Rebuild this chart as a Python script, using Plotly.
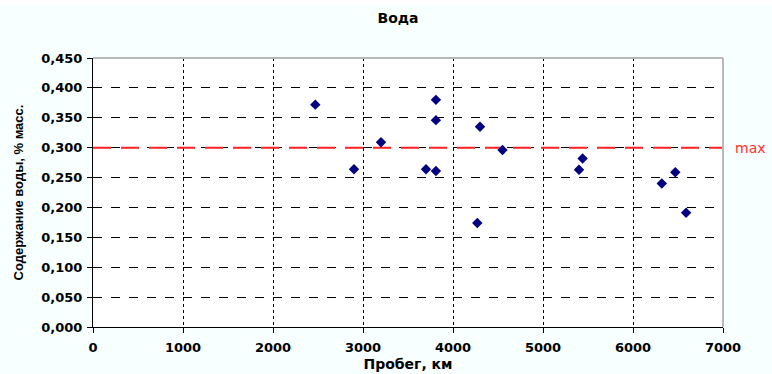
import plotly.graph_objects as go

probeg_km = [2470, 2900, 3200, 3700, 3810, 3810, 3810, 4270, 4300, 4550, 5400, 5440, 6320, 6470, 6590]
voda_pct = [0.372, 0.264, 0.309, 0.264, 0.380, 0.346, 0.261, 0.174, 0.335, 0.296, 0.263, 0.282, 0.240, 0.259, 0.191]
max_limit = 0.300
x_range = [0, 7000]
y_ticks = [0.0, 0.05, 0.10, 0.15, 0.20, 0.25, 0.30, 0.35, 0.40, 0.45]

fig = go.Figure()
fig.add_trace(go.Scatter(
    x=x_range, y=[max_limit, max_limit], mode="lines",
    line=dict(color="#FF2020", width=2, dash="18px,10px"),
    hoverinfo="skip", showlegend=False))
fig.add_trace(go.Scatter(
    x=probeg_km, y=voda_pct, mode="markers",
    marker=dict(symbol="diamond", color="#000080", size=8),
    showlegend=False))

wide = "DejaVu Sans, Verdana, sans-serif"
tick_font = dict(family=wide, size=13, color="black", weight="bold")

fig.update_layout(
    width=772, height=374,
    margin=dict(l=93, r=49, t=58, b=47, autoexpand=False),
    paper_bgcolor="#F7FFFF",
    plot_bgcolor="white",
    separators=", ",
    title=dict(text="<b>Вода</b>", x=398 / 772, xref="container", xanchor="center",
               y=1 - 18 / 374, yref="container", yanchor="middle",
               font=dict(family=wide, size=14, color="black")),
    xaxis=dict(
        range=x_range, dtick=1000, tickformat="d", automargin=False,
        showgrid=True, gridcolor="black", griddash="dot", gridwidth=1,
        showline=True, linecolor="black", linewidth=1, mirror=False,
        ticks="outside", ticklen=5, tickcolor="black", ticklabelstandoff=3,
        tickfont=tick_font, zeroline=False,
        title=dict(text="<b>Пробег, км</b>", standoff=5,
                   font=dict(family=wide, size=14, color="black"))),
    yaxis=dict(
        range=[0, 0.45], tickvals=y_ticks, tickformat=".3f", automargin=False,
        showgrid=True, gridcolor="black", griddash="dash", gridwidth=1,
        showline=True, linecolor="black", linewidth=1,
        ticks="outside", ticklen=5, tickcolor="black", ticklabelstandoff=2,
        tickfont=tick_font, zeroline=False,
        title=dict(text="<b>Содержание воды, % масс.</b>", standoff=14,
                   font=dict(family="Liberation Sans, Arial", size=13, color="black"))),
    shapes=[
        dict(type="line", xref="paper", yref="paper", x0=0, x1=1, y0=1, y1=1,
             line=dict(color="#B8B8B8", width=2)),
        dict(type="line", xref="paper", yref="paper", x0=1, x1=1, y0=0, y1=1,
             line=dict(color="#B8B8B8", width=2)),
        dict(type="rect", xref="paper", yref="paper", x0=-0.2, x1=1.1,
             y0=1 + 54 / 269, y1=1.3, fillcolor="white", line=dict(width=0), layer="above"),
    ],
    annotations=[
        dict(text="max", xref="paper", yref="y", x=1, y=max_limit, xanchor="left",
             xshift=10, showarrow=False,
             font=dict(family=wide, size=14, color="#FF3030")),
    ],
)

fig.write_html("out.html", config={"displayModeBar": False},
               post_script="document.body.style.margin='0';document.body.style.padding='0';")
